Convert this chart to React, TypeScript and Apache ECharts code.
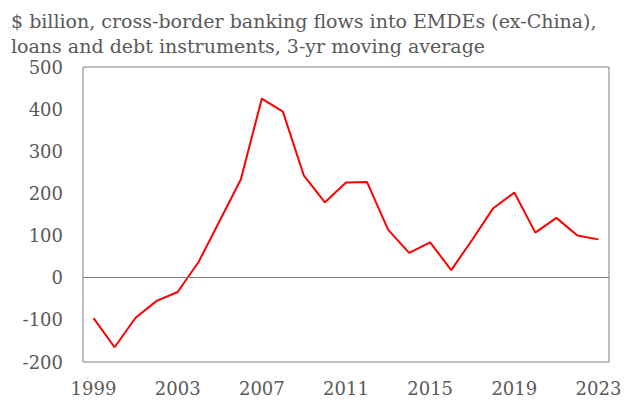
import React, { useEffect, useRef } from "react";
import * as echarts from "echarts";

const years = [
  "1999", "2000", "2001", "2002", "2003", "2004", "2005", "2006", "2007", "2008",
  "2009", "2010", "2011", "2012", "2013", "2014", "2015", "2016", "2017", "2018",
  "2019", "2020", "2021", "2022", "2023",
];
const flows = [
  -96, -165, -95, -55, -34, 38, 135, 233, 425, 394,
  242, 179, 226, 227, 114, 59, 84, 18, 90, 165,
  202, 107, 142, 100, 91,
];
const titleLines = [
  "$ billion, cross-border banking flows into EMDEs (ex-China),",
  "loans and debt instruments, 3-yr moving average",
];

const FONT = "DejaVu Serif";
const TEXT = "#595959";
const AXIS = "#7f7f7f";

export default function App() {
  const ref = useRef<HTMLDivElement>(null);
  useEffect(() => {
    if (!ref.current) return;
    const chart = echarts.init(ref.current, undefined, { renderer: "svg" });
    chart.setOption({
      animation: false,
      backgroundColor: "#ffffff",
      title: {
        text: titleLines.join("\n"),
        left: 6,
        top: 3,
        textStyle: {
          fontFamily: FONT,
          fontSize: 19,
          fontWeight: "normal",
          color: TEXT,
          lineHeight: 25,
        },
      },
      grid: { left: 83, right: 27, top: 67, bottom: 38, show: true, borderColor: AXIS, borderWidth: 1 },
      xAxis: {
        type: "category",
        data: years,
        boundaryGap: true,
        axisLine: { show: false },
        axisTick: { show: false },
        axisLabel: {
          interval: 3,
          fontFamily: FONT,
          fontSize: 18,
          color: TEXT,
          margin: 17,
        },
        splitLine: { show: false },
      },
      yAxis: {
        type: "value",
        min: -200,
        max: 500,
        interval: 100,
        axisLine: { show: false },
        axisTick: { show: false },
        axisLabel: {
          fontFamily: FONT,
          fontSize: 18,
          color: TEXT,
          margin: 20,
        },
        splitLine: { show: false },
      },
      series: [
        {
          type: "line",
          data: flows,
          symbol: "none",
          lineStyle: { color: "#ff0000", width: 2 },
          markLine: {
            silent: true,
            symbol: "none",
            label: { show: false },
            lineStyle: { color: AXIS, width: 1, type: "solid" },
            data: [{ yAxis: 0 }],
          },
        },
      ],
    });
    return () => chart.dispose();
  }, []);
  return (
    <div
      ref={ref}
      style={{ position: "absolute", left: 0, top: 0, width: 636, height: 400 }}
    />
  );
}
